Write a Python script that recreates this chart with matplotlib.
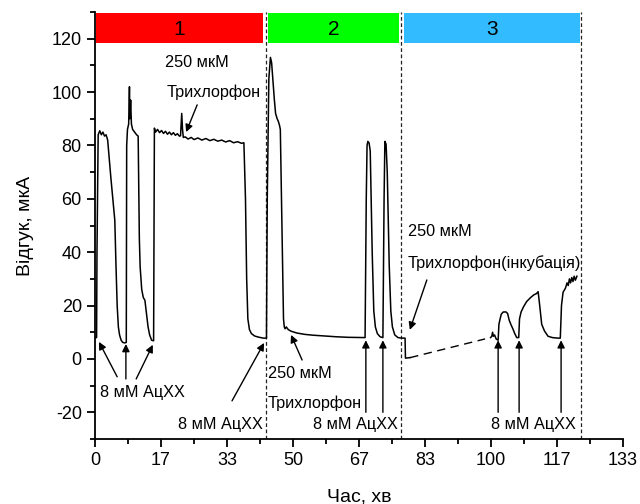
import matplotlib
matplotlib.use("Agg")
import matplotlib.pyplot as plt
from matplotlib.ticker import FixedLocator, MultipleLocator

plt.rcParams['font.family'] = ['Liberation Sans', 'DejaVu Sans']
plt.rcParams['axes.unicode_minus'] = False

# ---- data ----
t_main = [0, 0.4, 0.5, 0.8, 1.2, 1.6, 2.0, 2.4, 2.8, 3.2, 3.6, 4.0, 4.5, 5.0, 5.3, 5.6, 5.9, 6.2, 6.6, 7.0, 7.5, 7.9,
          8.0, 8.2, 8.5, 8.7, 8.8, 9.0, 9.2, 9.5, 10.0, 10.5, 10.9, 11.2, 11.4, 11.8, 12.2, 12.6, 13.0, 13.4, 13.8, 14.3, 14.8,
          15.0, 15.3, 15.8, 16.3, 16.8, 17.3, 17.8, 18.3, 18.8, 19.3, 19.8, 20.3, 20.8, 21.3, 21.6, 21.9, 22.1, 22.3,
          22.8, 23.5, 24.3, 25, 26, 27, 28, 29, 30, 31, 32, 33, 34, 35, 36, 37, 37.6,
          38.0, 38.3, 38.6, 39.0, 39.5, 40.3, 41.2, 42.5, 43.3,
          43.5, 43.9, 44.3, 44.6, 45.0, 45.3, 45.6, 46.0, 46.3, 46.6, 46.8, 47.2, 47.6, 47.8, 48.0, 48.3, 48.8, 49.5,
          51, 53, 55, 58, 61, 64, 68.2,
          68.5, 68.7, 68.9, 69.2, 69.5, 70.0, 70.4, 70.8, 71.3, 72.0, 72.7,
          73.0, 73.2, 73.5, 73.8, 74.3, 74.7, 75.1, 75.7, 76.5, 77.5, 78.3, 78.4, 79.6]
y_main = [8, 8, 40, 84, 85.5, 84, 85, 83.5, 84, 82, 75, 68, 60, 52, 35, 20, 12, 9, 7, 6.2, 6, 6.2,
          80, 86, 88, 102, 90, 97, 88, 86, 85, 84, 83.5, 45, 34.5, 26, 23, 22, 17, 12, 9, 7, 6.8,
          86.5, 85, 86, 84.8, 85.6, 84.5, 85.3, 84.2, 85, 84, 84.8, 83.8, 84.4, 83.5, 83.6, 92, 86, 83,
          83.2, 82.4, 83, 82.2, 82.8, 82, 82.6, 81.8, 82.3, 81.6, 82, 81.3, 81.8, 81, 81.4, 80.8, 81,
          60, 30, 15, 11, 9.5, 8.6, 8.2, 7.8, 7.8,
          60, 105, 113, 111, 103, 97, 92, 90, 89, 87.5, 86, 50, 15, 12, 11.3, 12, 11, 10.4,
          9.7, 9.2, 8.9, 8.6, 8.3, 8.1, 8,
          60, 80, 81.5, 81, 78, 40, 18, 12, 9.5, 8.3, 8,
          60, 81.5, 80.5, 70, 35, 18, 12, 9, 8, 7.8, 7.8, 0.3, 0.5]

t_dash = [79.6, 98.5]
y_dash = [0.5, 7.5]

t_last = [99.9, 100.2, 100.4, 100.6, 100.9, 101.3, 101.8, 102.0, 102.3, 102.6, 103.1, 103.8, 104.2, 104.6, 105.0,
          105.6, 106.0, 106.5, 107.0, 107.2, 107.6, 108.2, 109, 110, 110.8, 111.5, 111.9, 112.3, 112.8, 113.5,
          114.4, 115.5, 116.9, 117.5, 117.8, 118.2, 118.8, 119.2, 119.5, 119.8, 120.1, 120.4, 120.7, 121.0, 121.3, 121.7]
y_last = [8, 8.5, 10, 8.5, 9, 7.5, 7, 13, 15, 16.8, 17.6, 17.6, 17, 14.5, 13,
          11, 9.5, 8, 8, 15, 17.6, 19.5, 21.5, 23, 24, 24.5, 25.2, 20, 13, 10.5,
          8.5, 8, 7.8, 7.8, 20, 25, 26.5, 28.5, 27.5, 30, 28.5, 30.5, 29, 31, 29.5, 31]

stage_labels = ["1", "2", "3"]
stage_start = [0.3, 43.7, 78.0]
stage_end = [42.4, 76.8, 122.5]
stage_colors = ["#FF0000", "#00FF00", "#33BBFF"]
stage_bounds = [43.1, 77.3, 122.7]

x_tick_vals = [0, 50/3, 100/3, 50, 200/3, 250/3, 100, 350/3, 400/3]
x_tick_labels = ["0", "17", "33", "50", "67", "83", "100", "117", "133"]

# ---- figure ----
fig = plt.figure(figsize=(6.4, 5.04), dpi=100)
ax = fig.add_axes([95/640, 1 - 439/504, (623 - 95)/640, (439 - 12)/504])

ax.plot(t_main, y_main, color='black', lw=1.1, zorder=3)
ax.plot(t_dash, y_dash, color='black', lw=1.0, ls=(0, (6, 4)), zorder=3)
ax.plot(t_last, y_last, color='black', lw=1.1, zorder=3)

for xb in stage_bounds:
    ax.axvline(xb, color='#222222', lw=0.9, ls=(0, (3, 2)), zorder=2)

for lab, s, e, c in zip(stage_labels, stage_start, stage_end, stage_colors):
    ax.add_patch(plt.Rectangle((s, 118.5), e - s, 11.3, color=c, lw=0, zorder=1))
    ax.text((s + e) / 2, 123.6, lab, ha='center', va='center', fontsize=15)

ax.set_xlim(0, 400/3)
ax.set_ylim(-30, 130)
ax.xaxis.set_major_locator(FixedLocator(x_tick_vals))
ax.set_xticklabels(x_tick_labels)
ax.xaxis.set_minor_locator(MultipleLocator(50/6))
ax.yaxis.set_major_locator(FixedLocator(list(range(-20, 121, 20))))
ax.yaxis.set_minor_locator(MultipleLocator(10))
ax.spines['top'].set_visible(False)
ax.spines['right'].set_visible(False)
for sp in ['left', 'bottom']:
    ax.spines[sp].set_linewidth(1.3)
ax.tick_params(which='major', direction='out', length=6, width=1.3, labelsize=13)
ax.tick_params(which='minor', direction='out', length=3.5, width=1.3)

ax.set_xlabel("Час, хв", fontsize=14)
ax.set_ylabel("Відгук, мкА", fontsize=14)
ax.xaxis.set_label_coords(0.5, -0.115)
ax.yaxis.set_label_coords(-0.115, 0.5)

fs = 11.7
ap = dict(arrowstyle='-|>', color='black', lw=1.0, mutation_scale=11, shrinkA=0, shrinkB=0)

def arrow(x0, y0, x1, y1):
    ax.annotate("", xy=(x1, y1), xytext=(x0, y0), arrowprops=ap, zorder=4)

# stage 1 annotations
ax.text(25.6, 111, "250 мкМ", ha='center', va='center', fontsize=fs)
ax.text(29.9, 100, "Трихлорфон", ha='center', va='center', fontsize=fs)
arrow(25.8, 95.2, 23.0, 85.0)
ax.text(1.3, -12.4, "8 мМ АцХХ", ha='left', va='center', fontsize=fs)
arrow(5.6, -6.7, 1.0, 6.4)
arrow(7.8, -7.5, 7.8, 5.6)
arrow(10.4, -7.5, 14.6, 5.3)
ax.text(42.3, -24.7, "8 мМ АцХХ", ha='right', va='center', fontsize=fs)
arrow(34.6, -15.7, 42.7, 6.0)

# stage 2 annotations
ax.text(43.7, -5.3, "250 мкМ", ha='left', va='center', fontsize=fs)
ax.text(43.7, -16.5, "Трихлорфон", ha='left', va='center', fontsize=fs)
arrow(52.3, -0.4, 49.5, 9.0)
ax.text(76.6, -24.7, "8 мМ АцХХ", ha='right', va='center', fontsize=fs)
for xa in [68.4, 72.7]:
    arrow(xa, -20, xa, 7)

# stage 3 annotations
ax.text(79.0, 47.6, "250 мкМ", ha='left', va='center', fontsize=fs)
ax.text(79.0, 36.0, "Трихлорфон(інкубація)", ha='left', va='center', fontsize=fs)
arrow(83.8, 29.6, 79.5, 10.9)
ax.text(110.6, -24.7, "8 мМ АцХХ", ha='center', va='center', fontsize=fs)
for xa in [101.8, 107.1, 117.7]:
    arrow(xa, -20, xa, 7)

fig.savefig("out.png", dpi=100)
